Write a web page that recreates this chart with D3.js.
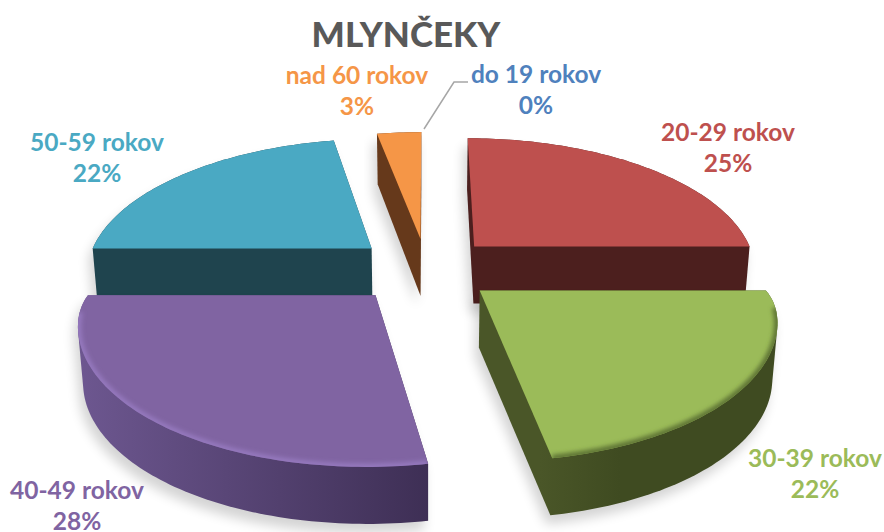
<!DOCTYPE html>
<html>
<head>
<meta charset="utf-8">
<script src="https://cdn.jsdelivr.net/npm/d3@7"></script>
<style>
html, body { margin: 0; padding: 0; background: #fff; }
svg { display: block; }
text { font-family: Lato, sans-serif; font-weight: 700; text-anchor: middle; }
</style>
</head>
<body>
<svg id="chart" width="884" height="532"></svg>
<script>
const title = 'MLYNČEKY';
const categories = ['do 19 rokov', '20-29 rokov', '30-39 rokov', '40-49 rokov', '50-59 rokov', 'nad 60 rokov'];
const values = [0, 25, 22.2, 27.8, 22, 3];

const topColors = ['#4f81bd', '#be504e', '#9bbb59', '#8064a2', '#4aa9c3', '#f59647'];
const wallColors = ['#243a57', '#4c1f1e', '#4a5628', '#6d5790', '#1f444e', '#66391b'];
const wallDark = ['#243a57', '#4c1f1e', '#3f4b21', '#3e2f55', '#1f444e', '#66391b'];
const rimColors = [null, null, '#5f7434', '#9478bd', null, null];

// label anchors: centre x, baseline of the first line
const labelX = [536, 728, 815, 77, 97, 357];
const labelY = [83, 141, 467, 499, 151, 84];
const drawOrder = [4, 1, 5, 3, 2];

// small per slice corrections, pixels and radius factor
const shiftX = [0, 3, 2, -6, -4, 1];
const shiftY = [0, 0, 2, 2.5, 0, 1];
const sizeK = [1, 0.99, 0.995, 0.99, 1, 1];
const cornerK = [0, 0, 0.02, 0.015, 0, 0];

const svg = d3.select('#chart');
const defs = svg.append('defs');

// tilted disc seen in perspective, v > 0 is towards the viewer
const cx = 425.5, cy = 268, radiusX = 286, radiusY = 134.6, persp = 0.171;
const explode = 0.232;

const project = (u, v) => {
    let s = 1 / (1 - persp * v);
    return [cx + radiusX * u * s, cy + radiusY * v * s];
};
const depthAt = v => (v < -0.3 ? 57 + 7 * (v + 0.3) : 57);

let arcs = d3.pie().sort(null).startAngle(0).endAngle(2 * Math.PI)(values);

const sliceShape = (d, i) => {
    let mid = (d.startAngle + d.endAngle) / 2;
    let ou = explode * Math.sin(mid), ov = -explode * Math.cos(mid);
    let steps = Math.max(2, Math.ceil((d.endAngle - d.startAngle) / 0.02));
    let angle = d3.scaleLinear().domain([0, steps]).range([d.startAngle, d.endAngle]);
    let rim = d3.range(steps + 1).map(j => {
        let a = angle(j);
        // the outer corner of a bevelled slice is rounded off towards the flat side
        let flat = Math.abs(a - Math.PI / 2) < 0.5 ? a - Math.PI / 2
                 : Math.abs(a - 1.5 * Math.PI) < 0.5 ? 1.5 * Math.PI - a : 1;
        let r = sizeK[i] * (1 - cornerK[i] * Math.exp(-flat / 0.09));
        return [ou + r * Math.sin(a), ov - r * Math.cos(a), a];
    });
    return { apex: [ou, ov], rim };
};

const line = d3.line();
const closed = d3.line().curve(d3.curveLinearClosed);

defs.append('filter').attr('id', 'soft').attr('x', '-20%').attr('y', '-20%').attr('width', '140%').attr('height', '140%')
    .append('feGaussianBlur').attr('stdDeviation', 6);
defs.append('filter').attr('id', 'bevel').attr('x', '-10%').attr('y', '-10%').attr('width', '120%').attr('height', '120%')
    .append('feGaussianBlur').attr('stdDeviation', 2);

drawOrder.forEach(i => {
    let d = arcs[i];
    let shape = sliceShape(d, i);
    let toScreen = p => {
        let q = project(p[0], p[1]);
        return [q[0] + shiftX[i], q[1] + shiftY[i]];
    };
    let points = [shape.apex].concat(shape.rim);
    let top = points.map(toScreen);
    let bottom = points.map(p => {
        let q = toScreen(p);
        return [cx + (q[0] - cx) * 0.985, q[1] + depthAt(p[1])];
    });
    let hull = d3.polygonHull(top.concat(bottom));

    let xs = d3.extent(hull, p => p[0]);
    let gradId = 'wall' + i;
    let grad = defs.append('linearGradient').attr('id', gradId)
        .attr('gradientUnits', 'userSpaceOnUse')
        .attr('x1', i == 2 ? 540 : xs[0]).attr('x2', i == 2 ? 620 : xs[1]).attr('y1', 0).attr('y2', 0);
    grad.append('stop').attr('offset', 0).attr('stop-color', wallColors[i]);
    grad.append('stop').attr('offset', 1).attr('stop-color', wallDark[i]);

    let g = svg.append('g').attr('class', 'slice');

    g.append('path')
        .attr('d', closed(hull))
        .attr('transform', 'translate(-4,9)')
        .attr('fill', '#000')
        .attr('opacity', 0.17)
        .attr('filter', 'url(#soft)');

    g.append('path')
        .attr('d', closed(hull))
        .attr('fill', 'url(#' + gradId + ')');

    g.append('path')
        .attr('d', closed(top))
        .attr('fill', topColors[i]);

    if (rimColors[i]) {
        let front = shape.rim.filter(p => p[2] > Math.PI / 2 + 0.1 && p[2] < 1.5 * Math.PI - 0.1).map(toScreen);
        let clipId = 'clip' + i;
        defs.append('clipPath').attr('id', clipId).append('path').attr('d', closed(top));
        g.append('path')
            .attr('d', line(front))
            .attr('clip-path', 'url(#' + clipId + ')')
            .attr('fill', 'none')
            .attr('stroke', rimColors[i])
            .attr('stroke-width', 7)
            .attr('filter', 'url(#bevel)');
    }
});

// leader line of the empty slice
svg.append('path')
    .attr('d', line([[424, 129], [454, 82], [468, 82]]))
    .attr('fill', 'none')
    .attr('stroke', '#a6a6a6')
    .attr('stroke-width', 1.5);

svg.append('text')
    .attr('x', 406)
    .attr('y', 47)
    .attr('fill', '#595959')
    .style('font-size', '35px')
    .style('font-weight', 900)
    .text(title);

let labels = svg.selectAll('g.label')
    .data(categories)
    .enter()
    .append('g')
    .attr('class', 'label')
    .attr('fill', (d, i) => topColors[i])
    .style('font-size', '24.5px');

labels.append('text')
    .attr('x', (d, i) => labelX[i])
    .attr('y', (d, i) => labelY[i])
    .text(d => d);

labels.append('text')
    .attr('x', (d, i) => labelX[i])
    .attr('y', (d, i) => labelY[i] + 31)
    .text((d, i) => Math.round(values[i]) + '%');
</script>
</body>
</html>
